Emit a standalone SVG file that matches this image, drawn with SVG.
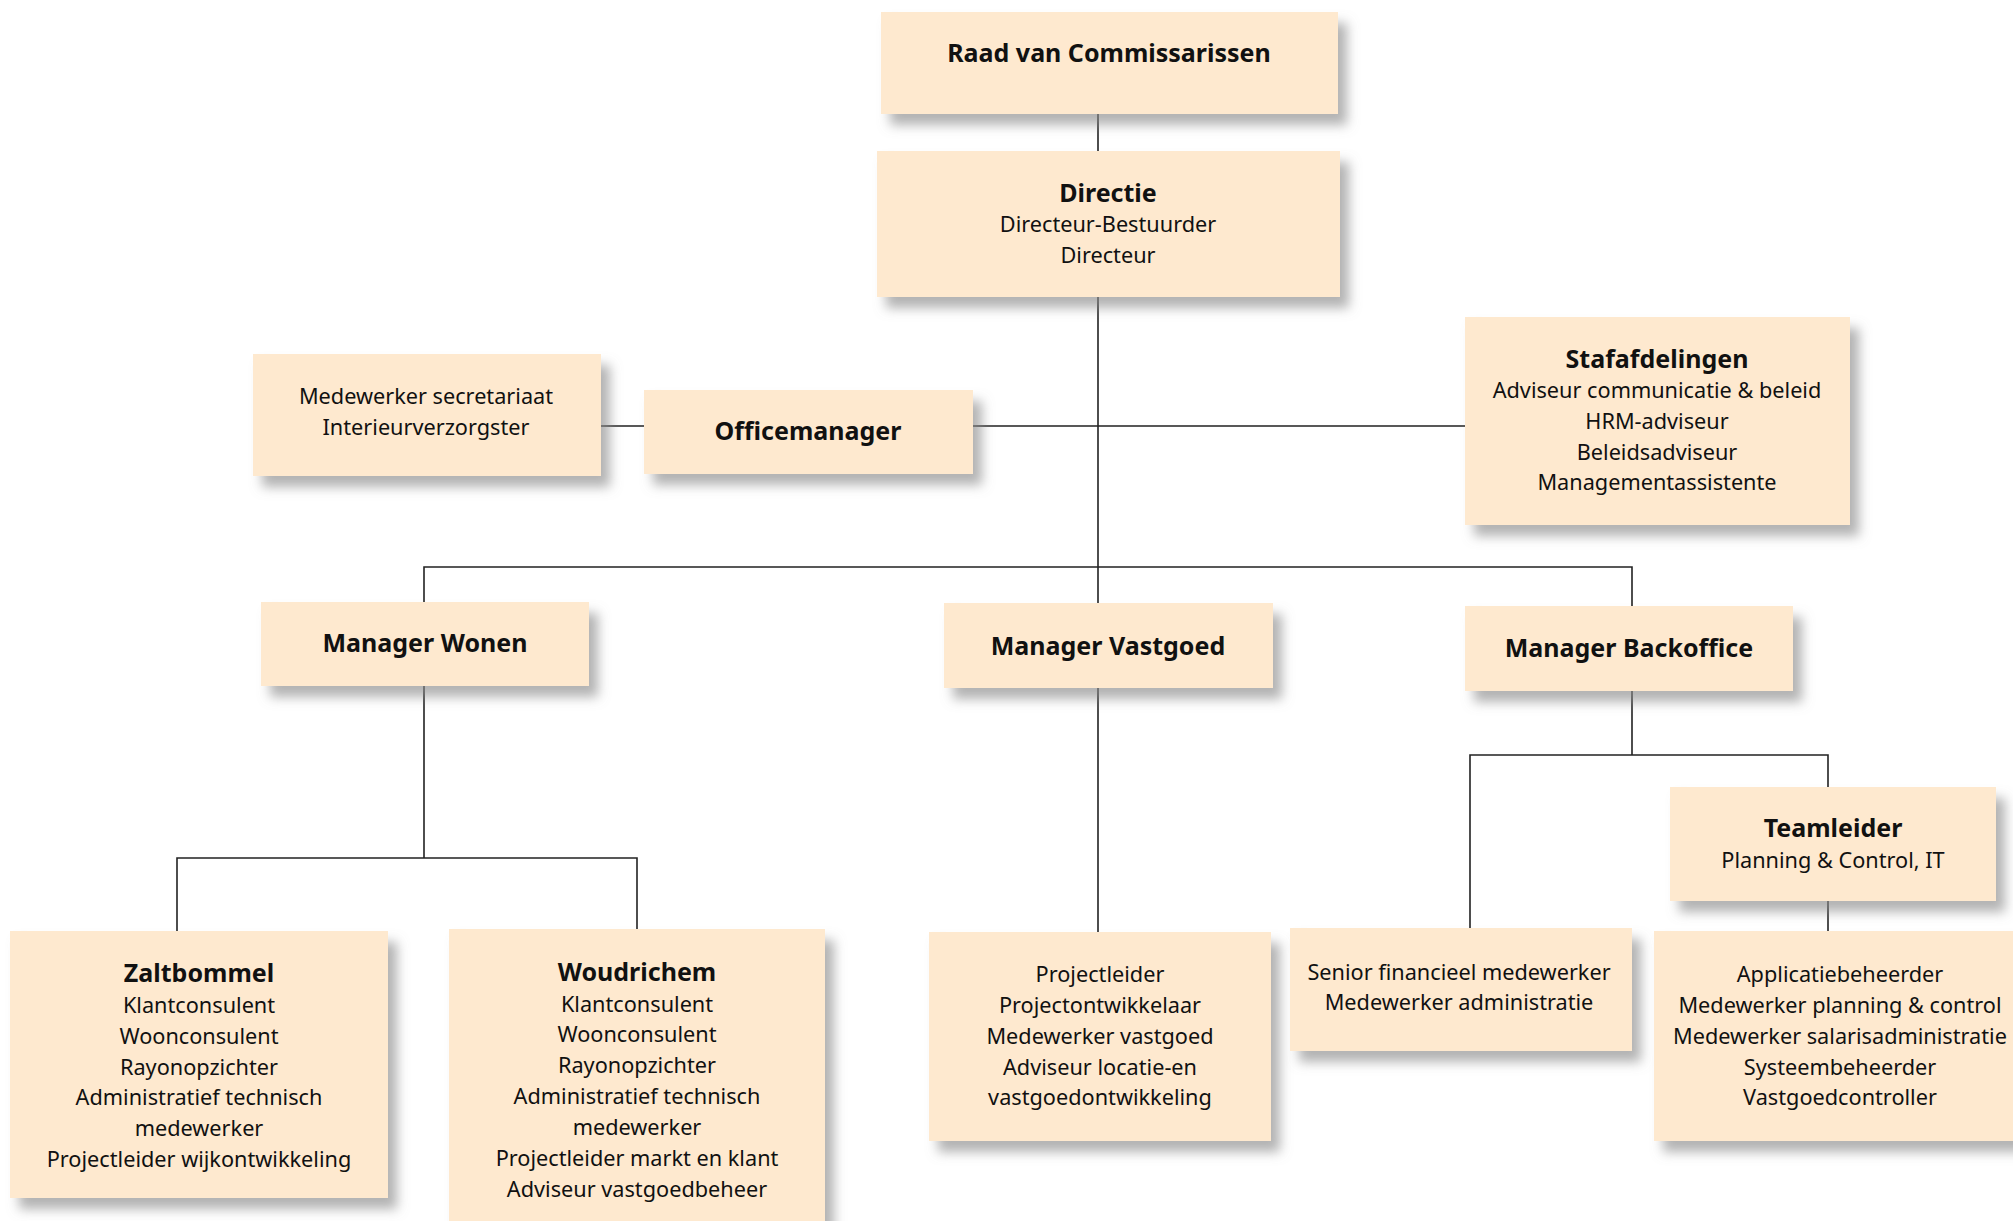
<svg xmlns="http://www.w3.org/2000/svg" width="2013" height="1221" viewBox="0 0 2013 1221">
<defs>
<filter id="sh" x="-10%" y="-10%" width="130%" height="140%">
<feDropShadow dx="9" dy="11" stdDeviation="6" flood-color="#8a8a8a" flood-opacity="0.65"/>
</filter>
<style>
.box{fill:#FEE9CF;filter:url(#sh);}
text{font-family:"Noto Sans","Open Sans",sans-serif;text-anchor:middle;fill:#111;}
.t{font-size:25px;font-weight:bold;}
.n{font-size:21.7px;}
.c{fill:none;stroke:#222;stroke-width:1.6;}
</style>
</defs>
<rect width="2013" height="1221" fill="#fff"/>
<g id="connectors">
<path class="c" d="M1098 114V151M1098 297V603M973 426H1465M601 426H644M424 602V567H1632V606M424 686V858M177 931V858H637V929M1098 688V932M1632 691V755M1470 928V755H1828V787M1828 901V931"/>
</g>
<g id="raad"><rect class="box" x="881" y="12" width="457" height="102"/>
<text class="t" x="1109" y="62">Raad van Commissarissen</text></g>
<g id="directie"><rect class="box" x="877" y="151" width="463" height="146"/>
<text class="t" x="1108" y="202">Directie</text>
<text class="n" x="1108" y="232">Directeur-Bestuurder</text>
<text class="n" x="1108" y="263">Directeur</text></g>
<g id="secretariaat"><rect class="box" x="253" y="354" width="348" height="122"/>
<text class="n" x="426" y="404">Medewerker secretariaat</text>
<text class="n" x="426" y="435">Interieurverzorgster</text></g>
<g id="officemanager"><rect class="box" x="644" y="390" width="329" height="84"/>
<text class="t" x="808" y="440">Officemanager</text></g>
<g id="stafafdelingen"><rect class="box" x="1465" y="317" width="385" height="208"/>
<text class="t" x="1657" y="368">Stafafdelingen</text>
<text class="n" x="1657" y="398">Adviseur communicatie &amp; beleid</text>
<text class="n" x="1657" y="429">HRM-adviseur</text>
<text class="n" x="1657" y="460">Beleidsadviseur</text>
<text class="n" x="1657" y="490">Managementassistente</text></g>
<g id="manager-wonen"><rect class="box" x="261" y="602" width="328" height="84"/>
<text class="t" x="425" y="652">Manager Wonen</text></g>
<g id="manager-vastgoed"><rect class="box" x="944" y="603" width="329" height="85"/>
<text class="t" x="1108" y="655">Manager Vastgoed</text></g>
<g id="manager-backoffice"><rect class="box" x="1465" y="606" width="328" height="85"/>
<text class="t" x="1629" y="657">Manager Backoffice</text></g>
<g id="teamleider"><rect class="box" x="1670" y="787" width="326" height="114"/>
<text class="t" x="1833" y="837">Teamleider</text>
<text class="n" x="1833" y="868">Planning &amp; Control, IT</text></g>
<g id="zaltbommel"><rect class="box" x="10" y="931" width="378" height="267"/>
<text class="t" x="199" y="982">Zaltbommel</text>
<text class="n" x="199" y="1013">Klantconsulent</text>
<text class="n" x="199" y="1044">Woonconsulent</text>
<text class="n" x="199" y="1075">Rayonopzichter</text>
<text class="n" x="199" y="1105">Administratief technisch</text>
<text class="n" x="199" y="1136">medewerker</text>
<text class="n" x="199" y="1167">Projectleider wijkontwikkeling</text></g>
<g id="woudrichem"><rect class="box" x="449" y="929" width="376" height="300"/>
<text class="t" x="637" y="981">Woudrichem</text>
<text class="n" x="637" y="1012">Klantconsulent</text>
<text class="n" x="637" y="1042">Woonconsulent</text>
<text class="n" x="637" y="1073">Rayonopzichter</text>
<text class="n" x="637" y="1104">Administratief technisch</text>
<text class="n" x="637" y="1135">medewerker</text>
<text class="n" x="637" y="1166">Projectleider markt en klant</text>
<text class="n" x="637" y="1197">Adviseur vastgoedbeheer</text></g>
<g id="vastgoed-team"><rect class="box" x="929" y="932" width="342" height="209"/>
<text class="n" x="1100" y="982">Projectleider</text>
<text class="n" x="1100" y="1013">Projectontwikkelaar</text>
<text class="n" x="1100" y="1044">Medewerker vastgoed</text>
<text class="n" x="1100" y="1075">Adviseur locatie-en</text>
<text class="n" x="1100" y="1105">vastgoedontwikkeling</text></g>
<g id="financieel"><rect class="box" x="1290" y="928" width="342" height="123"/>
<text class="n" x="1459" y="980">Senior financieel medewerker</text>
<text class="n" x="1459" y="1010">Medewerker administratie</text></g>
<g id="it-team"><rect class="box" x="1654" y="931" width="370" height="210"/>
<text class="n" x="1840" y="982">Applicatiebeheerder</text>
<text class="n" x="1840" y="1013">Medewerker planning &amp; control</text>
<text class="n" x="1840" y="1044">Medewerker salarisadministratie</text>
<text class="n" x="1840" y="1075">Systeembeheerder</text>
<text class="n" x="1840" y="1105">Vastgoedcontroller</text></g>
</svg>
